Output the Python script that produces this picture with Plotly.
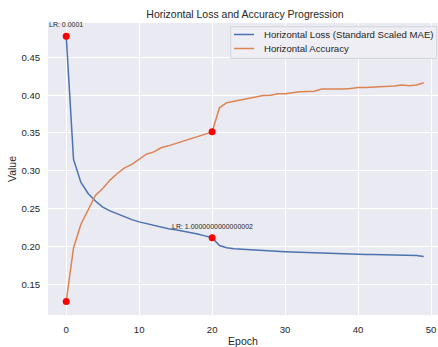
import plotly.graph_objects as go

epochs = list(range(50))

loss = [
    0.478, 0.315, 0.285, 0.270, 0.260, 0.252, 0.247, 0.243, 0.239, 0.2355,
    0.2325, 0.230, 0.228, 0.2255, 0.2235, 0.222, 0.2205, 0.218, 0.2165, 0.214,
    0.2115, 0.2013, 0.1983, 0.1970, 0.1963, 0.1956, 0.1950, 0.1944, 0.1938, 0.1933,
    0.1930, 0.1926, 0.1922, 0.1918, 0.1914, 0.1911, 0.1908, 0.1905, 0.1903, 0.1900,
    0.1898, 0.1895, 0.1893, 0.1891, 0.1889, 0.1887, 0.1885, 0.1882, 0.1879, 0.1867,
]

accuracy = [
    0.1273, 0.198, 0.229, 0.248, 0.2675, 0.2767, 0.2877, 0.2965, 0.304, 0.3084,
    0.3155, 0.322, 0.325, 0.3305, 0.333, 0.336, 0.3393, 0.3428, 0.346, 0.348,
    0.3515, 0.3833, 0.390, 0.392, 0.394, 0.396, 0.398, 0.3996, 0.400, 0.402,
    0.4018, 0.4035, 0.4045, 0.405, 0.4053, 0.408, 0.4078, 0.4078, 0.408, 0.4089,
    0.410, 0.410, 0.4105, 0.411, 0.411, 0.412, 0.4133, 0.4125, 0.4135, 0.4164,
]

series_names = ["Horizontal Loss (Standard Scaled MAE)", "Horizontal Accuracy"]
series_colors = ["#4c72b0", "#dd8452"]

# learning-rate changes marked on the curves
lr_epochs = [0, 20]
lr_labels = ["LR: 0.0001", "LR: 1.0000000000000002"]

FONT = "Liberation Sans, Arial, sans-serif"
TEXT = "#262626"

W, H = 438, 347
ML, MR, MT, MB = 48, 0, 23, 32
PW, PH = W - ML - MR, H - MT - MB


def px_x(x):
    return (x - ML) / PW


def px_y(y):
    return 1 - (y - MT) / PH


fig = go.Figure()
for vals, name, color in zip([loss, accuracy], series_names, series_colors):
    fig.add_trace(go.Scatter(
        x=epochs, y=vals, mode="lines", name=name, showlegend=False,
        line=dict(color=color, width=1.5),
    ))

mark_x = list(lr_epochs) + list(lr_epochs)
mark_y = [loss[e] for e in lr_epochs] + [accuracy[e] for e in lr_epochs]
fig.add_trace(go.Scatter(
    x=mark_x, y=mark_y, mode="markers", showlegend=False,
    marker=dict(color="red", size=7, line=dict(width=0)),
))

for e, lab in zip(lr_epochs, lr_labels):
    fig.add_annotation(
        x=e, y=loss[e], text=lab, showarrow=False, yshift=11.5,
        font=dict(family=FONT, size=7, color=TEXT),
        xanchor="center", yanchor="middle",
    )

# compact legend box in the upper-right corner
x0, x1, y0, y1 = 230.7, 436.7, 26.7, 58.3
fig.add_shape(
    type="rect", xref="paper", yref="paper",
    x0=px_x(x0), x1=px_x(x1), y0=px_y(y1), y1=px_y(y0),
    fillcolor="#eeeef4", line=dict(color="#d4d4dc", width=1), layer="above",
)
for i, (name, color) in enumerate(zip(series_names, series_colors)):
    ry = 34.5 + 14 * i
    fig.add_shape(
        type="line", xref="paper", yref="paper",
        x0=px_x(234), x1=px_x(254), y0=px_y(ry), y1=px_y(ry),
        line=dict(color=color, width=1.5), layer="above",
    )
    fig.add_annotation(
        xref="paper", yref="paper", x=px_x(261.5), y=px_y(ry),
        text=name, showarrow=False, xanchor="left", yanchor="middle",
        font=dict(family=FONT, size=9.6, color=TEXT),
    )

axis_common = dict(
    showgrid=True, gridcolor="white", gridwidth=1, zeroline=False,
    showline=False, ticks="outside", ticklen=5, tickcolor="rgba(0,0,0,0)",
    tickfont=dict(family=FONT, size=9.6, color=TEXT),
)

fig.update_xaxes(
    range=[-2.5, 50.96], tickvals=[0, 10, 20, 30, 40, 50],
    title=dict(text="Epoch", font=dict(family=FONT, size=10.5, color=TEXT), standoff=4),
    **axis_common,
)
fig.update_yaxes(
    range=[0.1094, 0.4954], tickvals=[0.15, 0.20, 0.25, 0.30, 0.35, 0.40, 0.45],
    tickformat=".2f",
    title=dict(text="Value", font=dict(family=FONT, size=10.5, color=TEXT), standoff=2),
    **axis_common,
)

fig.update_layout(
    width=W, height=H,
    margin=dict(l=ML, r=MR, t=MT, b=MB),
    plot_bgcolor="#eaeaf2", paper_bgcolor="white",
    showlegend=False,
    title=dict(
        text="Horizontal Loss and Accuracy Progression",
        x=0.505, xref="paper", xanchor="center", y=1 - 14 / H, yanchor="middle",
        font=dict(family=FONT, size=10.5, color=TEXT),
    ),
    font=dict(family=FONT, color=TEXT),
)

fig.write_html("out.html")
